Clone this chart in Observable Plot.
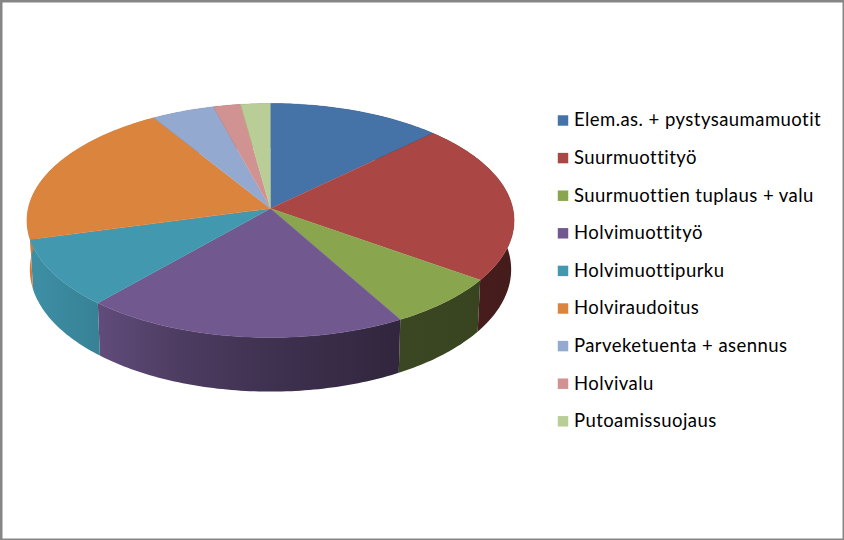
<!DOCTYPE html>
<html>
<head>
<meta charset="utf-8">
<script src="https://cdn.jsdelivr.net/npm/d3@7"></script>
<script src="https://cdn.jsdelivr.net/npm/@observablehq/plot@0.6"></script>
<style>
html,body{margin:0;padding:0;background:#fff}
svg{display:block}
</style>
</head>
<body>
<div id="chart"></div>
<script>
const categories = ["Elem.as. + pystysaumamuotit","Suurmuottityö","Suurmuottien tuplaus + valu","Holvimuottityö","Holvimuottipurku","Holviraudoitus","Parveketuenta + asennus","Holvivalu","Putoamissuojaus"];
const shares = [12.75,22.12,7.02,19.53,9.38,20.43,4.6,2.0,2.17];
const colors = ["#4572A7","#AA4643","#89A54E","#71588F","#4198AF","#DB843D","#93A9CF","#D19392","#B9CD96"];

// pie geometry (perspective view of a disc)
const width = 844, height = 540;
const apex = {x:270, y:208}, R = 242.3, H = 115.8, K = 0.1026, D = 48.5, bottomScale = 0.988;
const shadeX = [26,100,180,270,400,514], shadeK = [0.95,0.85,0.68,0.56,0.43,0.40];
const legend = {squareX:562.5, textX:573.4, firstY:120, step:37.6, font:18.5, spacing:"0.45px"};

const total = d3.sum(shares);
const ends = d3.cumsum(shares).map(v => v / total * 360);
const slices = categories.map((name,i) => ({name, i, a0:i ? ends[i-1] : 0, a1:ends[i]}));
const rad = a => a * Math.PI / 180;
const proj = (a, lower=false) => {
  const u = Math.sin(rad(a)), v = Math.cos(rad(a)), s = 1/(1 + K*v);
  return lower
    ? {x:apex.x + R*u*s*bottomScale, y:apex.y - H*v*s + D*s}
    : {x:apex.x + R*u*s, y:apex.y - H*v*s};
};
const arc = (s) => { const n = Math.max(2, Math.ceil(s.a1 - s.a0)); return d3.range(n+1).map(j => s.a0 + (s.a1 - s.a0)*j/n); };

const topPts = slices.flatMap(s => [{name:s.name,...apex}, ...arc(s).map(a => ({name:s.name,...proj(a)}))]);
const sidePts = s => [...arc(s).map(a => proj(a)), ...arc(s).reverse().map(a => proj(a,true))];

const defs = () => {
  const d = d3.create("svg:defs");
  slices.forEach((s,i) => {
    const g = d.append("linearGradient").attr("id",`side${i}`).attr("gradientUnits","userSpaceOnUse")
      .attr("x1",shadeX[0]).attr("x2",shadeX[shadeX.length-1]).attr("y1",0).attr("y2",0);
    const c = d3.rgb(colors[i]);
    shadeX.forEach((x,k) => g.append("stop")
      .attr("offset",(x-shadeX[0])/(shadeX[shadeX.length-1]-shadeX[0]))
      .attr("stop-color",d3.rgb(c.r*shadeK[k],c.g*shadeK[k],c.b*shadeK[k]).formatHex()));
  });
  return d.node();
};

const legendRows = categories.map((name,i) => ({name, x:legend.squareX, tx:legend.textX, y:legend.firstY + i*legend.step}));

const chart = Plot.plot({
  width, height, margin:0,
  x:{type:"identity", axis:null},
  y:{type:"identity", axis:null},
  color:{domain:categories, range:colors},
  marks:[
    defs,
    ...slices.map((s,i) => Plot.line(sidePts(s), {x:"x", y:"y", fill:`url(#side${i})`, stroke:"none", curve:"linear"})),
    Plot.line(topPts, {x:"x", y:"y", z:"name", fill:"name", stroke:"name", strokeWidth:0.4, curve:"linear"}),
    Plot.dot(legendRows, {x:"x", y:"y", fill:"name", stroke:"none", symbol:"square", r:5.9}),
    Plot.text(legendRows, {x:"tx", y:"y", text:"name", textAnchor:"start", fill:"#000", fontSize:legend.font, fontFamily:"Lato"}),
    Plot.frame({stroke:"#868686", strokeWidth:4})
  ]
});
d3.select(chart).selectAll("text").style("letter-spacing", legend.spacing);
document.getElementById("chart").append(chart);
</script>
</body>
</html>
